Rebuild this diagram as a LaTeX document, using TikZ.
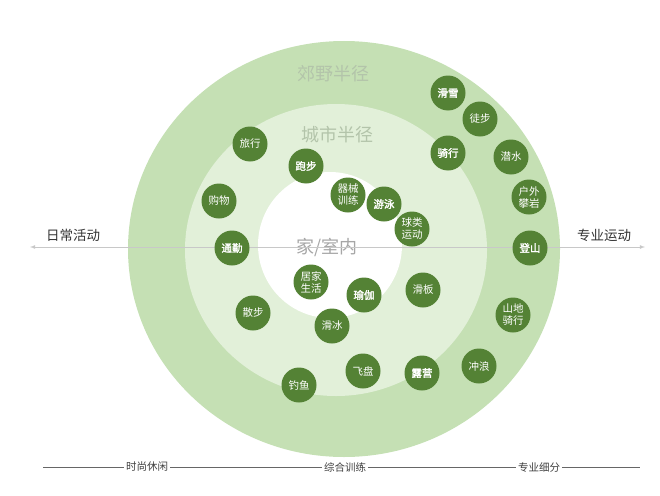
\documentclass[tikz,border=0pt]{standalone}
\usepackage{fontspec}
\newfontfamily\cjk[AutoFakeBold=2]{Noto Sans CJK SC}
\definecolor{ringout}{HTML}{C5E0B4}
\definecolor{ringmid}{HTML}{E2F0D9}
\definecolor{dot}{HTML}{548235}
\definecolor{ringtxt}{HTML}{B3C4AA}
\definecolor{axisgray}{HTML}{C8C8C8}
\tikzset{
  dotnode/.style={circle, fill=dot, text=white, minimum size=35pt, inner sep=0pt,
    align=center, font=\cjk\fontsize{10.5}{12}\selectfont},
  dotbold/.style={dotnode, font=\cjk\bfseries\fontsize{10.5}{12}\selectfont},
  scaletxt/.style={font=\cjk\fontsize{13.5}{15}\selectfont, text=black!80},
  basetxt/.style={font=\cjk\fontsize{10.5}{12}\selectfont, text=black!75, inner sep=2pt}
}
\begin{document}
\begin{tikzpicture}[x=1pt, y=-1pt]

  % Fix the canvas to the reference size
  \useasboundingbox (0,0) rectangle (660,495);

  % Draw the three rings
  \fill[ringout] (344,249) ellipse [x radius=216, y radius=208];
  \fill[ringmid] (336,250) ellipse [x radius=151, y radius=146];
  \fill[white] (330,245) ellipse [x radius=72, y radius=73];

  % Add the ring names
  \node[font=\cjk\fontsize{18}{20}\selectfont, text=ringtxt] (suburb) at (333,74) {郊野半径};
  \node[font=\cjk\fontsize{18}{20}\selectfont, text=ringtxt] (city) at (337,135) {城市半径};
  \node[font=\cjk\fontsize{18}{20}\selectfont, text=black!35] (home) at (327,247) {家/室内};

  % Draw the horizontal axis with arrows at both ends
  \coordinate (L) at (30,247);
  \coordinate (R) at (645,247);
  \draw[axisgray, line width=0.8pt, <->, >={latex}] (L) -- (R);
  \node[scaletxt] (daily) at (73,235) {日常活动};
  \node[scaletxt] (pro) at (604,235) {专业运动};

  % Add the activity dots, inner ring
  \node[dotnode] (gym) at (348,195) {器械\\训练};
  \node[dotbold] (swim) at (384,204) {游泳};
  \node[dotnode] (ball) at (412,229) {球类\\运动};
  \node[dotnode] (living) at (311,282) {居家\\生活};
  \node[dotbold] (yoga) at (364,295) {瑜伽};

  % Add the activity dots, city ring
  \node[dotnode] (travel) at (250,144) {旅行};
  \node[dotbold] (run) at (306,166) {跑步};
  \node[dotnode] (shop) at (219,201) {购物};
  \node[dotbold] (commute) at (232,248) {通勤};
  \node[dotnode] (walk) at (253,313) {散步};
  \node[dotnode] (skate) at (332,326) {滑冰};
  \node[dotnode] (board) at (423,290) {滑板};
  \node[dotbold] (cycle) at (448,153) {骑行};
  \node[dotnode] (frisbee) at (363,371) {飞盘};
  \node[dotnode] (fish) at (299,385) {钓鱼};
  \node[dotbold] (camp) at (422,373) {露营};

  % Add the activity dots, suburb ring
  \node[dotbold] (ski) at (448,93) {滑雪};
  \node[dotnode] (hike) at (480,119) {徒步};
  \node[dotnode] (dive) at (511,157) {潜水};
  \node[dotnode] (climb) at (529,197) {户外\\攀岩};
  \node[dotbold] (mount) at (530,248) {登山};
  \node[dotnode] (mtb) at (513,315) {山地\\骑行};
  \node[dotnode] (surf) at (479,366) {冲浪};

  % Bottom scale with three labels
  \coordinate (B0) at (43,467);
  \coordinate (B1) at (640,467);
  \node[basetxt, fill=white] (leisure) at (147,467) {时尚休闲};
  \node[basetxt, fill=white] (mixed) at (345,467) {综合训练};
  \node[basetxt, fill=white] (special) at (539,467) {专业细分};
  \draw[black!60, line width=1pt] (B0) -- (leisure.west);
  \draw[black!60, line width=1pt] (leisure.east) -- (mixed.west);
  \draw[black!60, line width=1pt] (mixed.east) -- (special.west);
  \draw[black!60, line width=1pt] (special.east) -- (B1);

\end{tikzpicture}
\end{document}
